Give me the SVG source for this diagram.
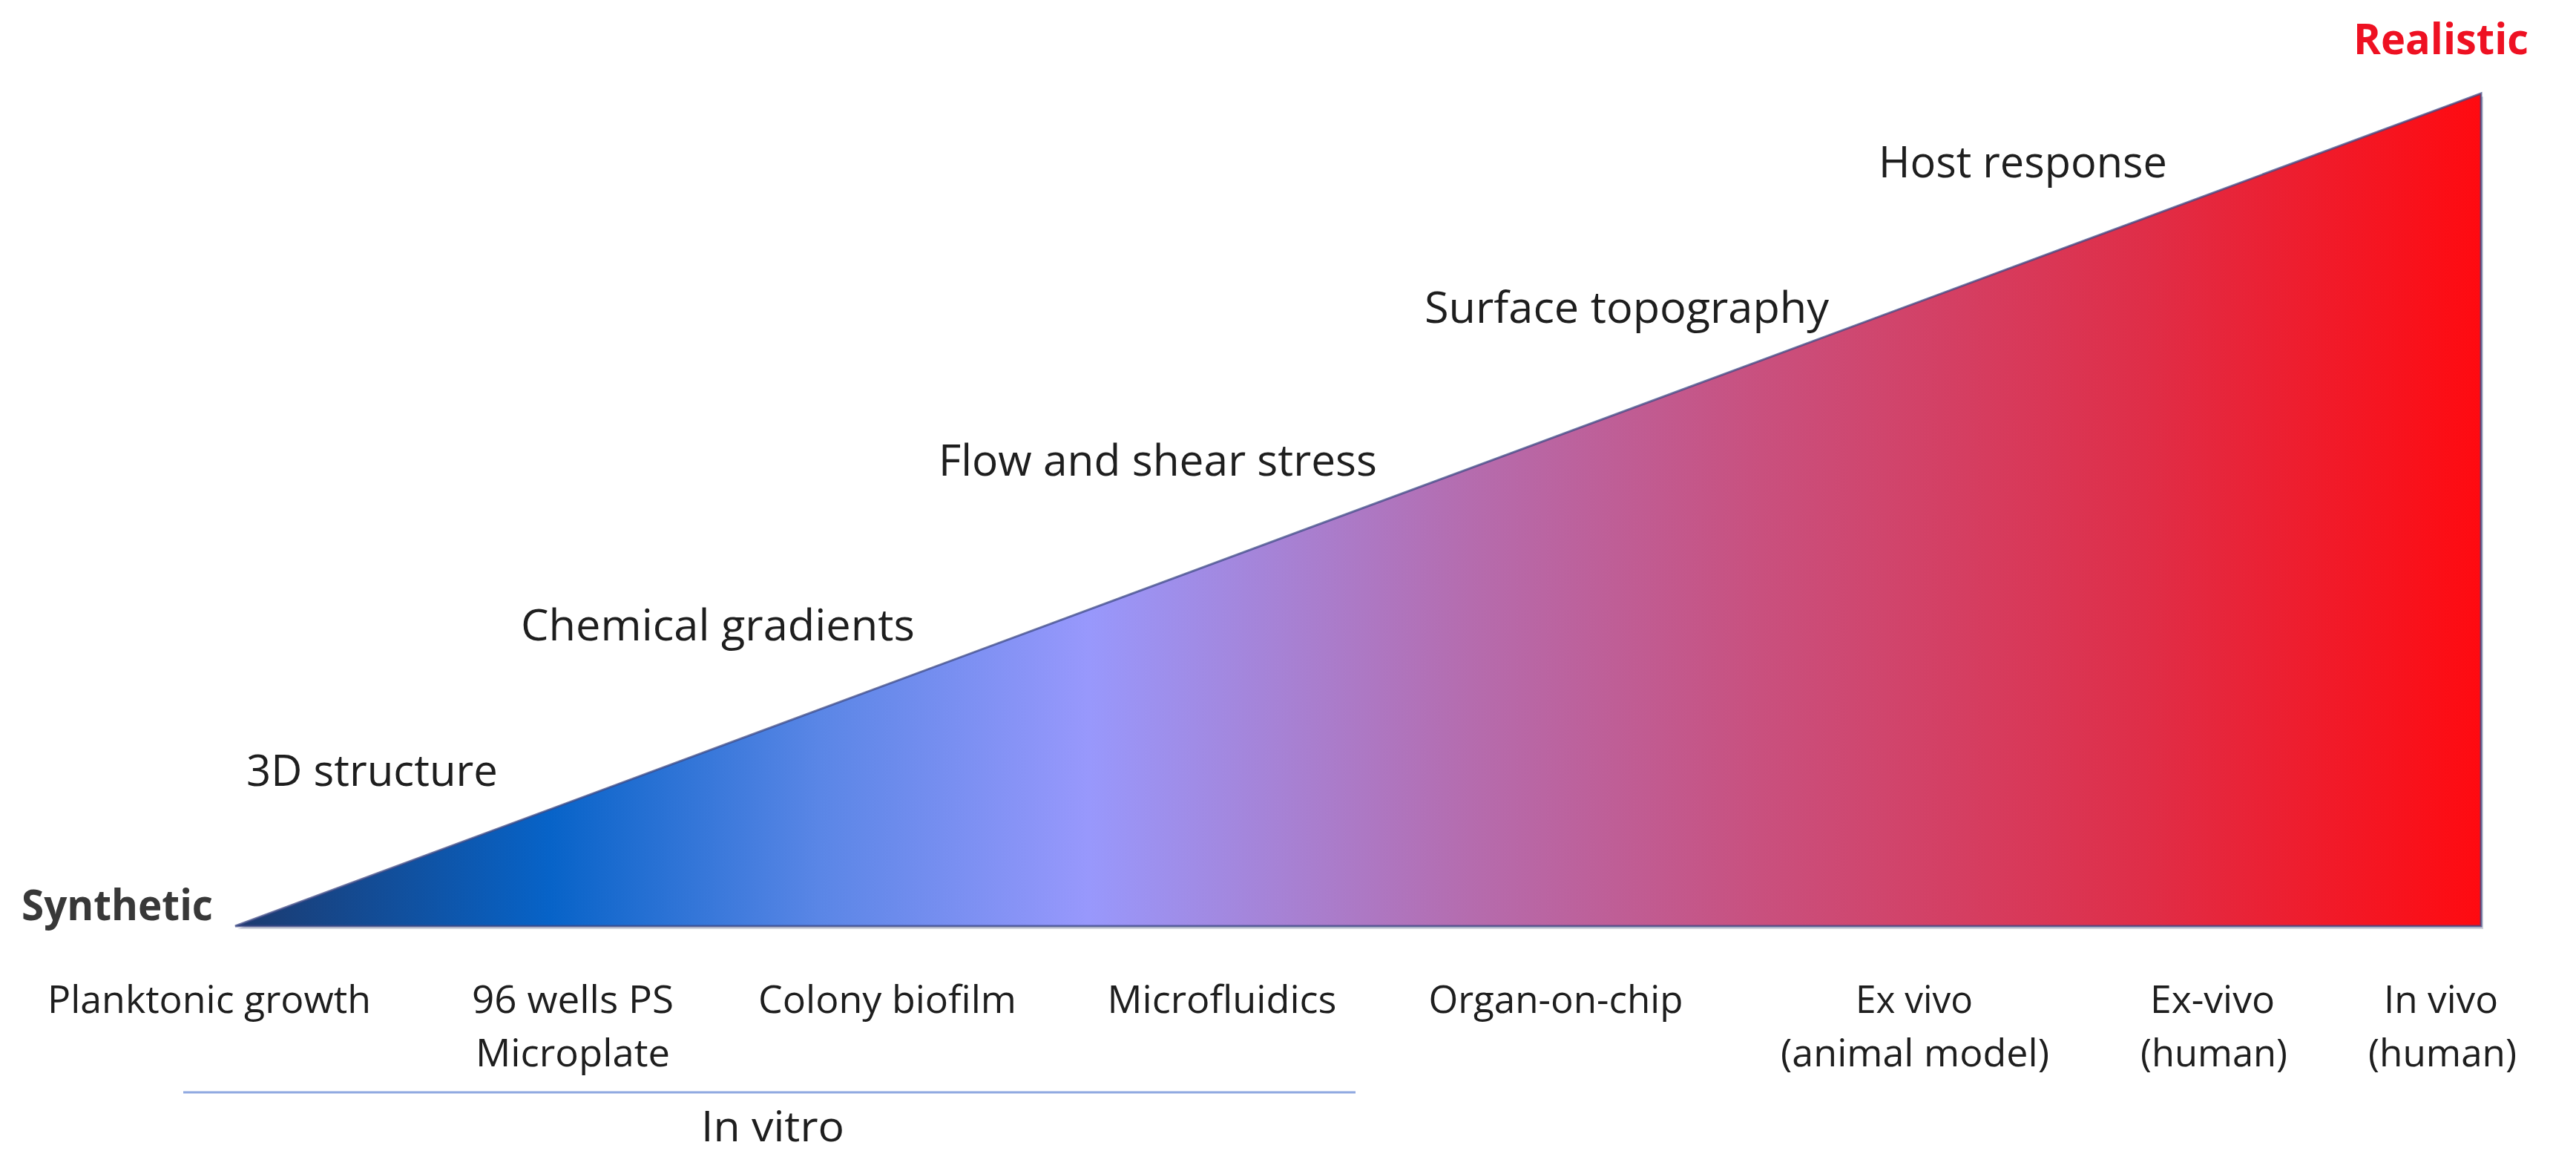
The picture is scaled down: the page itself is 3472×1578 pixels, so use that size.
<svg xmlns="http://www.w3.org/2000/svg" width="3472" height="1578" viewBox="0 0 3472 1578">
<defs>
<linearGradient id="grad" gradientUnits="userSpaceOnUse" x1="317" y1="0" x2="3344" y2="0">
<stop offset="0" stop-color="#1c3a6e"/>
<stop offset="0.14" stop-color="#0763c8"/>
<stop offset="0.26" stop-color="#5a86e6"/>
<stop offset="0.38" stop-color="#9898fc"/>
<stop offset="0.55" stop-color="#b56cae"/>
<stop offset="0.68" stop-color="#c9507e"/>
<stop offset="0.85" stop-color="#df2e48"/>
<stop offset="1" stop-color="#ff0a10"/>
</linearGradient>
<style>
.lbl{font-family:"Open Sans","Noto Sans","Liberation Sans",sans-serif;fill:#1e1e1e;}
.up{font-size:58px;}
.bot{font-size:52px;text-anchor:middle;}
.end{font-family:"Open Sans","Noto Sans","Liberation Sans",sans-serif;font-weight:bold;font-size:57px;}
</style>
</defs>
<rect width="3472" height="1578" fill="#ffffff"/>
<g id="triangle">
<polygon points="320,1252 3347,130 3347,1252" fill="#cfd2dc"/>
<polygon points="317,1248 3344,126 3344,1248" fill="url(#grad)" stroke="#3d4a86" stroke-opacity="0.75" stroke-width="3" stroke-linejoin="miter"/>
</g>
<g id="synthetic"><text class="end" x="29" y="1240" fill="#383838" textLength="258" lengthAdjust="spacingAndGlyphs">Synthetic</text></g>
<g id="realistic"><text class="end" x="3172" y="73" fill="#ee1122" textLength="236" lengthAdjust="spacingAndGlyphs">Realistic</text></g>
<g id="f-3d"><text class="lbl up" x="332" y="1059" textLength="339" lengthAdjust="spacingAndGlyphs">3D structure</text></g>
<g id="f-chem"><text class="lbl up" x="702" y="863" textLength="531" lengthAdjust="spacingAndGlyphs">Chemical gradients</text></g>
<g id="f-flow"><text class="lbl up" x="1265" y="641" textLength="591" lengthAdjust="spacingAndGlyphs">Flow and shear stress</text></g>
<g id="f-surf"><text class="lbl up" x="1920" y="435" textLength="545" lengthAdjust="spacingAndGlyphs">Surface topography</text></g>
<g id="f-host"><text class="lbl up" x="2532" y="239" textLength="389" lengthAdjust="spacingAndGlyphs">Host response</text></g>
<g id="m-plank"><text class="lbl bot" x="282" y="1365" textLength="436" lengthAdjust="spacingAndGlyphs">Planktonic growth</text></g>
<g id="m-96"><text class="lbl bot" x="772" y="1365" textLength="272" lengthAdjust="spacingAndGlyphs">96 wells PS</text><text class="lbl bot" x="772" y="1437" textLength="262" lengthAdjust="spacingAndGlyphs">Microplate</text></g>
<g id="m-colony"><text class="lbl bot" x="1196" y="1365" textLength="348" lengthAdjust="spacingAndGlyphs">Colony biofilm</text></g>
<g id="m-micro"><text class="lbl bot" x="1647" y="1365" textLength="309" lengthAdjust="spacingAndGlyphs">Microfluidics</text></g>
<g id="m-organ"><text class="lbl bot" x="2097" y="1365" textLength="343" lengthAdjust="spacingAndGlyphs">Organ-on-chip</text></g>
<g id="m-exanimal"><text class="lbl bot" x="2580" y="1365" textLength="158" lengthAdjust="spacingAndGlyphs">Ex vivo</text><text class="lbl bot" x="2581" y="1437" textLength="362" lengthAdjust="spacingAndGlyphs">(animal model)</text></g>
<g id="m-exhuman"><text class="lbl bot" x="2982" y="1365" textLength="168" lengthAdjust="spacingAndGlyphs">Ex-vivo</text><text class="lbl bot" x="2984" y="1437" textLength="198" lengthAdjust="spacingAndGlyphs">(human)</text></g>
<g id="m-invivo"><text class="lbl bot" x="3290" y="1365" textLength="154" lengthAdjust="spacingAndGlyphs">In vivo</text><text class="lbl bot" x="3292" y="1437" textLength="200" lengthAdjust="spacingAndGlyphs">(human)</text></g>
<g id="connectors">
<line x1="247" y1="1472" x2="1827" y2="1472" stroke="#8fa8e0" stroke-width="3"/>
</g>
<g id="invitro"><text class="lbl" x="945" y="1538" font-size="56" textLength="193" lengthAdjust="spacingAndGlyphs">In vitro</text></g>
</svg>
